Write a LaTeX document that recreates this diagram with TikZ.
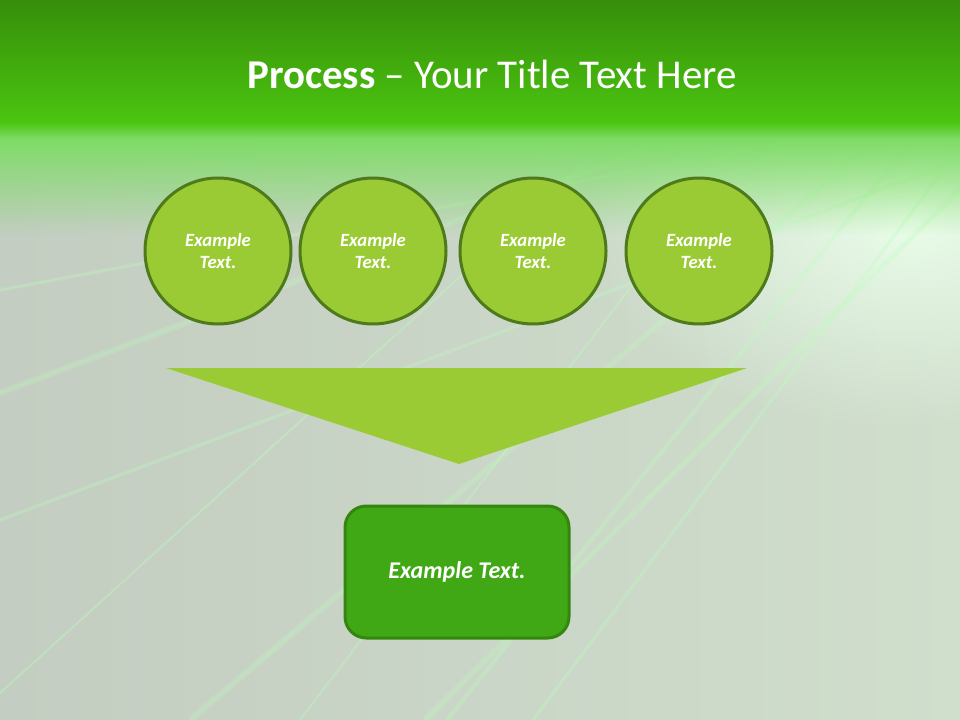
\documentclass[tikz,border=0pt]{standalone}
\usepackage{fontspec}
\setmainfont{Carlito}
\usetikzlibrary{fadings}

\definecolor{headtop}{HTML}{368E0A}
\definecolor{headbot}{HTML}{4BC510}
\definecolor{haze}{HTML}{7EDC66}
\definecolor{bgleft}{HTML}{C3CDC1}
\definecolor{bgright}{HTML}{D0DECC}
\definecolor{stagefill}{HTML}{9ACB34}
\definecolor{stageline}{HTML}{4E7A1B}
\definecolor{resultfill}{HTML}{3FA814}
\definecolor{resultline}{HTML}{35860F}

\tikzfading[name=fadedown, top color=transparent!0, bottom color=transparent!100]
\tikzfading[name=glow, inner color=transparent!0, outer color=transparent!100]

\begin{document}
\begin{tikzpicture}[x=0.75pt,y=-0.75pt,
    stage/.style={circle,draw=stageline,line width=2.25pt,fill=stagefill,minimum size=109.5pt,inner sep=0pt,align=center,text=white,font=\fontsize{14}{17}\selectfont\bfseries\itshape},
    result/.style={rectangle,rounded corners=16pt,draw=resultline,line width=2.25pt,fill=resultfill,minimum width=168pt,minimum height=99pt,text=white,font=\fontsize{18}{22}\selectfont\bfseries\itshape},
    ray/.style={green!25!white,opacity=0.2}]

       % backdrop
       \useasboundingbox (0,0) rectangle (960,720);
       \begin{scope}
       \clip (0,0) rectangle (960,720);
       \shade[left color=bgleft,right color=bgright] (0,0) rectangle (960,720);
       \fill[green!8!white,path fading=glow,opacity=0.95] (910,220) ellipse (330 and 210);
       \foreach \a/\b/\c/\d/\w in {0/393/960/30/5, 0/290/960/110/3, 0/520/960/160/3,
                                   190/720/1090/-40/5, 447/720/1000/30/4, 533/720/1070/0/3,
                                   300/720/850/0/2, 425/720/1000/150/5, 0/693/600/150/2}
         {\draw[ray,line width=\w pt] (\a,\b) -- (\c,\d);
          \draw[ray,line width=1pt] (\a,\b) -- (\c,\d);}
       \fill[haze,path fading=fadedown] (0,138) rectangle (960,235);
       \shade[top color=headbot,bottom color=haze] (0,122) rectangle (960,139);
       \shade[top color=headtop,bottom color=headbot] (0,0) rectangle (960,123);
       \end{scope}

       \node[text=white,font=\fontsize{30.7}{36}\selectfont,anchor=base] (title) at (492,89) {\textbf{Process} -- Your Title Text Here};

       \node[stage] (s1) at (218,251) {Example\\Text.};
       \node[stage] (s2) at (373,251) {Example\\Text.};
       \node[stage] (s3) at (533,251) {Example\\Text.};
       \node[stage] (s4) at (699,251) {Example\\Text.};

       \coordinate (fl) at (166,368);
       \coordinate (fr) at (747,368);
       \coordinate (ft) at (459,464);
       \fill[stagefill] (fl) -- (fr) -- (ft) -- cycle;

       \node[result] (r) at (457,572) {\raisebox{-1.5pt}{Example Text.}};
     \end{tikzpicture}
\end{document}
